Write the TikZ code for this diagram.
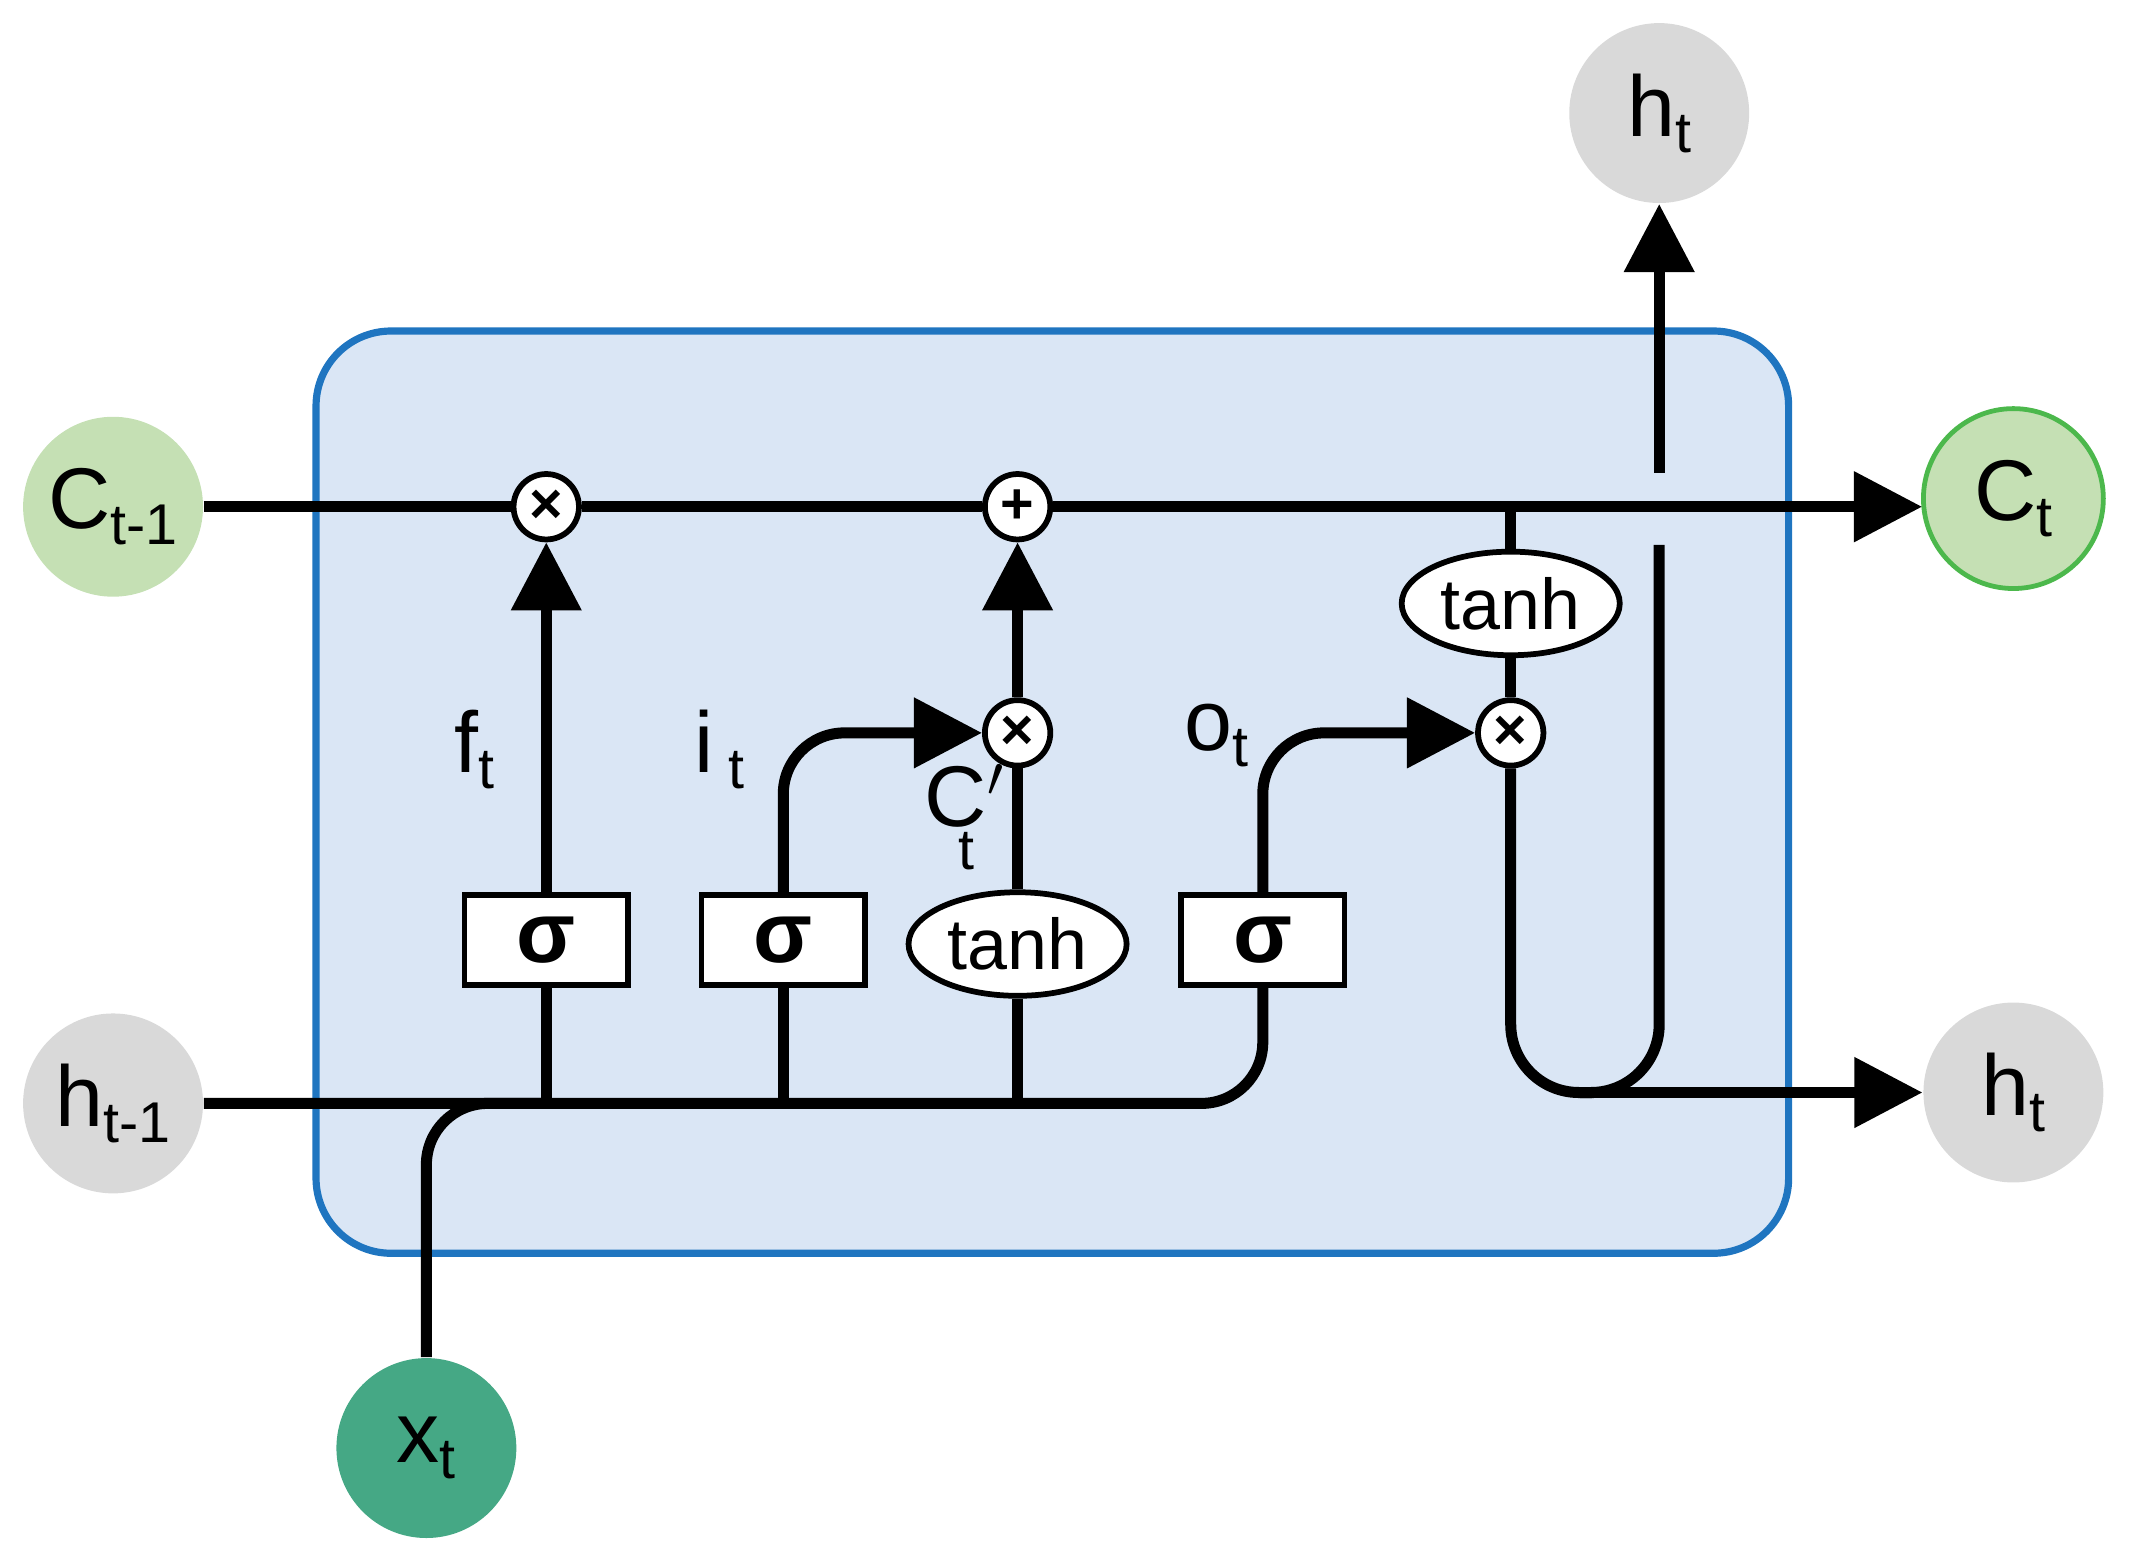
\documentclass[tikz,border=0pt]{standalone}
\usepackage{fontspec}
\setmainfont{Liberation Sans}
\usetikzlibrary{arrows.meta,shapes.geometric}
\definecolor{cellfill}{HTML}{DAE6F5}
\definecolor{cellborder}{HTML}{1F75C0}
\definecolor{lgreen}{HTML}{C5E0B4}
\definecolor{dgreen}{HTML}{45A885}
\definecolor{lgray}{HTML}{D9D9D9}
\newcommand{\sub}[1]{\raisebox{-0.35ex}{\fontsize{12}{12}\selectfont #1}}
\begin{document}
\begin{tikzpicture}[x=0.01cm,y=-0.01cm,
  wire/.style={line width=2.3pt},
  arr/.style={wire,-{Triangle[length=0.5cm,width=0.5cm]}},
  ext/.style={circle,minimum size=1.32cm,inner sep=0pt,font=\fontsize{18}{20}\selectfont},
  op/.style={circle,draw,line width=1.2pt,fill=white,minimum size=0.48cm,inner sep=0pt,font=\fontsize{12}{12}\selectfont\bfseries},
  sig/.style={draw,line width=1.2pt,fill=white,minimum width=1.2cm,minimum height=0.66cm,inner sep=0pt,font=\fontsize{18}{18}\selectfont},
  th/.style={ellipse,draw,line width=1.2pt,fill=white,minimum width=1.6cm,minimum height=0.76cm,inner sep=0pt,font=\fontsize{15}{15}\selectfont},
  lab/.style={font=\fontsize{18}{20}\selectfont}]
\useasboundingbox (0,0) rectangle (1568,1140);
\draw[cellborder,fill=cellfill,line width=1.5pt,rounded corners=0.55cm] (232,243) rectangle (1313,920);
\node[ext,fill=lgreen] (cp) at (83,372) {C\sub{t-1}};
\node[ext,fill=lgreen,draw=green!60!black!70,line width=1pt] (cn) at (1478,366) {C\sub{t}};
\node[ext,fill=lgray] (hp) at (83,810) {h\sub{t-1}};
\node[ext,fill=lgray] (hn) at (1478,802) {h\sub{t}};
\node[ext,fill=lgray] (ht) at (1218,83) {h\sub{t}};
\node[ext,fill=dgreen] (x) at (313,1063) {x\sub{t}};
\node[op] (m1) at (401,372) {×};
\node[op] (a1) at (747,372) {+};
\node[op] (m2) at (747,538) {×};
\node[op] (m3) at (1109,538) {×};
\node[sig] (s1) at (401,690) {\textbf{σ}};
\node[sig] (s2) at (575,690) {\textbf{σ}};
\node[sig] (s3) at (927,690) {\textbf{σ}};
\node[th] (t1) at (747,693) {tanh};
\node[th] (t2) at (1109,443) {tanh};
\coordinate (cj) at (1109,372);
\coordinate (ce) at (1411,372);
\draw[wire] (cp) -- (m1);
\draw[wire] (m1) -- (a1);
\draw[arr] (a1) -- (ce);
\draw[wire,rounded corners=0.45cm] (hp.east) -- (927,810) -- (s3.south);
\draw[wire,rounded corners=0.45cm] (x.north) -- (313,810) -- (400,810);
\draw[wire] (401,810) -- (s1.south);
\draw[wire] (575,810) -- (s2.south);
\draw[wire] (747,810) -- (t1.south);
\draw[arr] (s1.north) -- (m1.south);
\draw[arr,rounded corners=0.45cm] (s2.north) -- (575,538) -- (m2.west);
\draw[wire] (t1.north) -- (m2.south);
\draw[arr] (m2.north) -- (a1.south);
\draw[arr,rounded corners=0.45cm] (s3.north) -- (927,538) -- (m3.west);
\draw[wire] (cj) -- (t2.north);
\draw[wire] (t2.south) -- (m3.north);
\draw[wire,rounded corners=0.5cm] (m3.south) -- (1109,802) -- (1170,802);
\draw[arr] (1160,802) -- (hn.west);
\draw[wire,rounded corners=0.5cm] (1218,400) -- (1218,802) -- (1160,802);
\draw[arr] (1218,347) -- (ht.south);
\node[lab] (lf) at (348,550) {f\sub{t}};
\node[lab] (li) at (528,550) {i\,\sub{t}};
\node[lab] (lc) at (697,600) {C$'$\hspace{-0.55em}\raisebox{-0.6ex}{\sub{t}}};
\node[lab] (lo) at (893,540) {o\sub{t}};
\end{tikzpicture}
\end{document}
